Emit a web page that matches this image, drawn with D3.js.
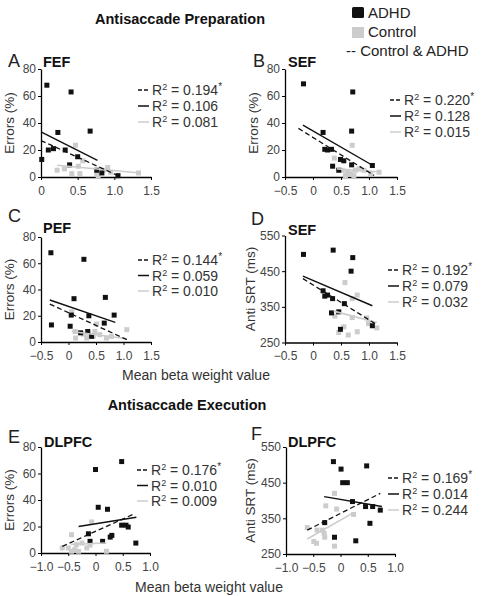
<!DOCTYPE html>
<html><head><meta charset="utf-8">
<script src="https://cdn.jsdelivr.net/npm/d3@7"></script>
<style>body{margin:0;background:#fff}svg{font-family:"Liberation Sans",Arial,sans-serif}</style>
</head><body><svg id="c" width="492" height="596"></svg>
<script>
// ---- data ----
const errorTicks = [0, 20, 40, 60, 80];
const srtTicks = [250, 350, 450, 550];
const ticksA = [0, 0.5, 1.0, 1.5];
const ticksB = [-0.5, 0, 0.5, 1.0, 1.5];
const ticksE = [-1.0, -0.5, 0, 0.5, 1.0];

const A_adhd = [[0.01,13],[0.08,68],[0.10,20],[0.17,21],[0.23,33],[0.33,20],[0.41,63],[0.39,9],[0.50,15],[0.67,34],[0.76,5],[0.83,3],[1.05,1]];
const A_ctrl = [[0.22,5],[0.32,6],[0.47,23.5],[0.51,8],[0.57,12],[0.53,2.5],[0.42,2.5],[0.76,2.5],[0.78,1],[0.85,5],[0.91,7],[0.95,3.5],[1.33,3]];
const A_fitAll = [[0,27],[1.05,1]];
const A_fitAdhd = [[0,33.5],[0.77,12.4]];
const A_fitCtrl = [[0.22,8.7],[1.35,3]];
const A_r2 = ["0.194*", "0.106", "0.081"];

const B_adhd = [[-0.17,69],[0.18,33],[0.21,20.5],[0.26,20],[0.33,20.5],[0.35,8],[0.46,5],[0.49,13],[0.55,12],[0.69,34],[0.71,63],[0.69,9],[1.06,8.5]];
const B_ctrl = [[0.38,14],[0.70,23.5],[0.52,5],[0.61,3.5],[0.67,2.5],[0.76,5],[0.82,6],[0.91,5],[1.03,2.5],[1.18,3.5],[0.58,1],[0.73,1]];
const B_fitAll = [[-0.26,36],[1.09,1.2]];
const B_fitAdhd = [[-0.18,38.5],[1.06,8.7]];
const B_fitCtrl = [[0.43,6],[1.21,3.7]];
const B_r2 = ["0.220*", "0.128", "0.015"];

const C_adhd = [[-0.32,68],[-0.31,13],[0.10,33],[0.05,20.5],[0.03,12],[0.28,63],[0.37,20],[0.35,8],[0.42,4.3],[0.65,14.4],[0.67,34],[0.83,20.5],[0.22,7]];
const C_ctrl = [[0.06,23],[0.13,3],[0.27,6],[0.36,6.8],[0.48,8],[0.51,13.7],[0.45,4.3],[0.57,5.6],[0.69,3],[0.78,4.3],[1.06,9.4],[0.33,3],[0.12,8]];
const C_fitAll = [[-0.34,28.9],[1.06,1.8]];
const C_fitAdhd = [[-0.34,32],[0.85,15]];
const C_fitCtrl = [[0.06,8],[1.06,2.5]];
const C_r2 = ["0.144*", "0.059", "0.010"];

const D_adhd = [[-0.17,497],[0.36,509],[0.71,488],[0.68,450],[0.18,395],[0.21,380],[0.26,383],[0.35,373],[0.33,333],[0.49,287],[0.56,359],[0.46,336],[1.06,297]];
const D_ctrl = [[0.57,418],[0.79,383],[0.70,373],[0.39,324],[0.70,320],[0.55,294],[0.46,278],[0.63,271],[0.79,280],[0.96,319],[0.99,303],[1.14,291]];
const D_fitAll = [[-0.18,429],[1.15,299]];
const D_fitAdhd = [[-0.18,436],[1.06,353]];
const D_fitCtrl = [[0.37,338],[1.14,306]];
const D_r2 = ["0.192*", "0.079", "0.032"];

const E_adhd = [[0.0,63],[0.48,69],[0.05,34.5],[0.22,33],[-0.13,14.5],[-0.10,8.8],[0.13,8.8],[0.27,12],[0.30,13.3],[0.48,21],[0.56,21],[0.60,19.6],[0.74,7.5]];
const E_ctrl = [[-0.5,3.8],[-0.44,13.8],[-0.61,3.8],[-0.38,2.5],[-0.35,6.3],[-0.25,7.5],[-0.31,1.3],[-0.16,3.8],[-0.07,23.4],[0.2,1.3],[-0.44,1.3],[-0.1,6]];
const E_fitAll = [[-0.61,5],[0.72,29.7]];
const E_fitAdhd = [[-0.31,20],[0.75,27]];
const E_fitCtrl = [[-0.45,6.5],[0.2,7.5]];
const E_r2 = ["0.176*", "0.010", "0.009"];

const F_adhd = [[-0.13,509],[0.01,488],[0.04,450],[0.125,450],[0.48,497],[0.22,397],[0.46,383],[0.59,383],[0.73,373],[0.54,336],[-0.29,338],[-0.11,297],[0.28,287]];
const F_ctrl = [[-0.11,420],[-0.27,385],[-0.07,376],[0.24,361],[-0.61,324],[-0.43,317],[-0.30,308],[-0.29,297],[-0.49,285],[-0.44,280],[-0.11,272],[-0.33,317]];
const F_fitAll = [[-0.61,317],[0.73,420]];
const F_fitAdhd = [[-0.3,411],[0.76,383]];
const F_fitCtrl = [[-0.61,292],[0.24,366]];
const F_r2 = ["0.169*", "0.014", "0.244"];

const legendLabels = ["ADHD", "Control", "-- Control & ADHD"];

// ---- layout ----
const panels = [
 {L:"A", T:"FEF", ad:A_adhd, ct:A_ctrl, fa:A_fitAll, fd:A_fitAdhd, fc:A_fitCtrl, r2:A_r2, xd:[0,1.5], xt:ticksA, yd:[0,80], yt:errorTicks, yl:"Errors (%)",
  px:[41,151], py:[177,69], lx:8, ly:67, tx:43, ty:67, kx:138, ky:90, kd:16, ylx:14},
 {L:"B", T:"SEF", ad:B_adhd, ct:B_ctrl, fa:B_fitAll, fd:B_fitAdhd, fc:B_fitCtrl, r2:B_r2, xd:[-0.5,1.5], xt:ticksB, yd:[0,80], yt:errorTicks, yl:"Errors (%)",
  px:[285,397], py:[177,69], lx:253, ly:67, tx:288, ty:67, kx:390, ky:100, kd:16, ylx:258},
 {L:"C", T:"PEF", ad:C_adhd, ct:C_ctrl, fa:C_fitAll, fd:C_fitAdhd, fc:C_fitCtrl, r2:C_r2, xd:[-0.5,1.5], xt:ticksB, yd:[0,80], yt:errorTicks, yl:"Errors (%)",
  px:[41,151], py:[342,237], lx:8, ly:222, tx:43, ty:233, kx:138, ky:260, kd:15.5, ylx:14},
 {L:"D", T:"SEF", ad:D_adhd, ct:D_ctrl, fa:D_fitAll, fd:D_fitAdhd, fc:D_fitCtrl, r2:D_r2, xd:[-0.5,1.5], xt:ticksB, yd:[250,550], yt:srtTicks, yl:"Anti SRT (ms)",
  px:[285,397], py:[342.5,235.5], lx:251, ly:225, tx:288, ty:235, kx:388, ky:270, kd:16, ylx:255},
 {L:"E", T:"DLPFC", ad:E_adhd, ct:E_ctrl, fa:E_fitAll, fd:E_fitAdhd, fc:E_fitCtrl, r2:E_r2, xd:[-1,1], xt:ticksE, yd:[0,80], yt:errorTicks, yl:"Errors (%)",
  px:[41,150], py:[553,447], lx:8, ly:443, tx:44, ty:447, kx:137, ky:470, kd:15.5, ylx:14},
 {L:"F", T:"DLPFC", ad:F_adhd, ct:F_ctrl, fa:F_fitAll, fd:F_fitAdhd, fc:F_fitCtrl, r2:F_r2, xd:[-1,1], xt:ticksE, yd:[250,550], yt:srtTicks, yl:"Anti SRT (ms)",
  px:[286,395], py:[554,447], lx:251, ly:440, tx:288, ty:447, kx:388, ky:478, kd:16, ylx:255}
];

const svg = d3.select("#c");
const BLACK = "#111", GRAY = "#cccccc", TICK = "#444";

svg.append("text").attr("x",180).attr("y",24).attr("text-anchor","middle")
  .attr("font-size",14.5).attr("font-weight","bold").attr("fill","#111").text("Antisaccade Preparation");
svg.append("text").attr("x",187).attr("y",410).attr("text-anchor","middle")
  .attr("font-size",14.5).attr("font-weight","bold").attr("fill","#111").text("Antisaccade Execution");

// legend
const lg = svg.append("g");
lg.append("rect").attr("x",352).attr("y",7).attr("width",12).attr("height",11).attr("rx",1.5).attr("fill",BLACK);
lg.append("rect").attr("x",352).attr("y",27).attr("width",12).attr("height",11).attr("fill",GRAY);
[0,1,2].forEach(i=>{
  lg.append("text").attr("x", i<2?368:346).attr("y",18+i*19).attr("font-size",15).attr("fill","#222").text(legendLabels[i]);
});

svg.append("text").attr("x",196).attr("y",380).attr("text-anchor","middle").attr("font-size",14).attr("fill","#333").text("Mean beta weight value");
svg.append("text").attr("x",209).attr("y",592).attr("text-anchor","middle").attr("font-size",14).attr("fill","#333").text("Mean beta weight value");

panels.forEach(p=>{
  const g = svg.append("g");
  const x = d3.scaleLinear().domain(p.xd).range(p.px);
  const y = d3.scaleLinear().domain(p.yd).range(p.py);
  const xa = g.append("g").attr("transform",`translate(0,${p.py[0]})`)
    .call(d3.axisBottom(x).tickValues(p.xt).tickSize(3).tickSizeOuter(0).tickPadding(6)
      .tickFormat(d=> d===0 ? "0" : d3.format(".1f")(d)));
  const ya = g.append("g").attr("transform",`translate(${p.px[0]},0)`)
    .call(d3.axisLeft(y).tickValues(p.yt).tickSize(3).tickSizeOuter(0).tickPadding(2));
  [xa,ya].forEach(a=>{
    a.selectAll("path").attr("stroke","#000").attr("stroke-width",1.3);
    a.selectAll("line").attr("stroke","#000");
    a.selectAll("text").attr("font-size",12).attr("fill",TICK).attr("font-family",'"Liberation Sans",Arial,sans-serif');
  });
  // labels
  g.append("text").attr("x",p.lx).attr("y",p.ly).attr("font-size",18).attr("fill","#222").text(p.L);
  g.append("text").attr("x",p.tx).attr("y",p.ty).attr("font-size",14.5).attr("font-weight","bold").attr("fill","#111").text(p.T);
  g.append("text").attr("transform",`translate(${p.ylx},${(p.py[0]+p.py[1])/2}) rotate(-90)`)
    .attr("text-anchor","middle").attr("font-size",13.5).attr("fill","#333").text(p.yl);
  // points
  const s = 5;
  g.selectAll(".c").data(p.ct).join("rect").attr("x",d=>x(d[0])-s/2).attr("y",d=>y(d[1])-s/2)
    .attr("width",s).attr("height",s).attr("fill",GRAY);
  g.selectAll(".a").data(p.ad).join("rect").attr("x",d=>x(d[0])-s/2).attr("y",d=>y(d[1])-s/2)
    .attr("width",s).attr("height",s).attr("fill",BLACK);
  // fit lines
  const line = d3.line().x(d=>x(d[0])).y(d=>y(d[1]));
  g.append("path").attr("d",line(p.fc)).attr("stroke",GRAY).attr("stroke-width",1.6).attr("fill","none");
  g.append("path").attr("d",line(p.fd)).attr("stroke",BLACK).attr("stroke-width",1.4).attr("fill","none");
  g.append("path").attr("d",line(p.fa)).attr("stroke",BLACK).attr("stroke-width",1.3).attr("stroke-dasharray","5,3").attr("fill","none");
  // key
  const styles = [{c:BLACK,da:"4,2"},{c:BLACK,da:null},{c:GRAY,da:null}];
  styles.forEach((st,i)=>{
    const yy = p.ky + i*p.kd;
    g.append("line").attr("x1",p.kx).attr("x2",p.kx+11).attr("y1",yy).attr("y2",yy)
      .attr("stroke",st.c).attr("stroke-width",1.5).attr("stroke-dasharray",st.da);
    const t = g.append("text").attr("x",p.kx+14).attr("y",yy+5).attr("font-size",14).attr("fill","#333");
    t.append("tspan").text("R");
    t.append("tspan").attr("dy",-5).attr("font-size",9).text("2");
    t.append("tspan").attr("dy",5).text(" = " + p.r2[i].replace("*",""));
    if (p.r2[i].includes("*")) t.append("tspan").attr("dy",-5).attr("font-size",10).text("*");
  });
});
</script></body></html>
